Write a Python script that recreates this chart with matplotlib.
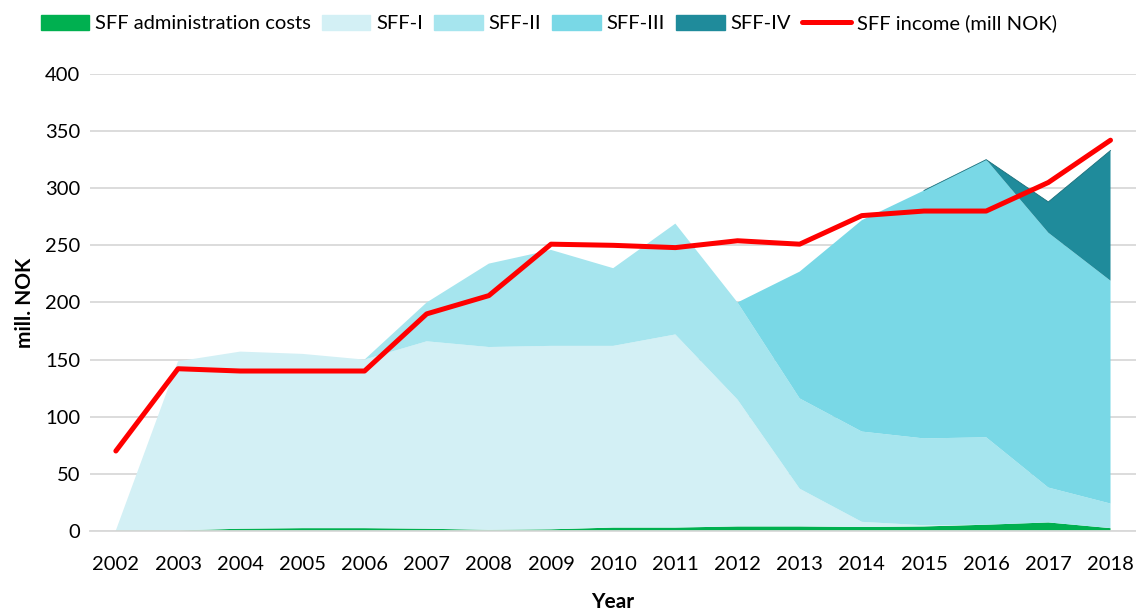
import numpy as np
import matplotlib
matplotlib.use('Agg')
import matplotlib.pyplot as plt
from matplotlib.patches import Patch
from matplotlib.lines import Line2D

plt.rcParams['font.family'] = ['Lato', 'DejaVu Sans']

years = list(range(2002, 2019))
admin = [0.5, 0.5, 2, 2.5, 2.5, 2, 1, 1.5, 3, 3, 4, 4, 3.5, 4, 5.5, 7.5, 2.5]
sff_1 = [0, 148, 155, 152.5, 147.5, 164, 160, 160.5, 159, 169, 111, 33, 4.5, 1, 0, 0, 0]
sff_2 = [0, 0, 0, 0, 0, 34, 73, 84, 68, 97, 85, 79, 79, 76, 76.5, 30.5, 21.5]
sff_3 = [0, 0, 0, 0, 0, 0, 0, 0, 0, 0, 0, 111, 185, 217, 243, 223, 195]
sff_4 = [0, 0, 0, 0, 0, 0, 0, 0, 0, 0, 0, 0, 0, 0, 0, 27, 114]
income = [70, 142, 140, 140, 140, 190, 206, 251, 250, 248, 254, 251, 276, 280, 280, 305, 342]

labels = ['SFF administration costs', 'SFF-I', 'SFF-II', 'SFF-III', 'SFF-IV']
colors = ['#00B050', '#D3F0F5', '#A6E5EE', '#79D8E6', '#1F8B9B']

fig = plt.figure(figsize=(11.36, 6.16), dpi=100)
ax = fig.add_axes([0.079, 0.138, 0.921, 0.742])

ax.stackplot(years, admin, sff_1, sff_2, sff_3, sff_4, colors=colors, linewidth=0)
# thin dark edge on top of the SFF-IV area
top = np.sum([admin, sff_1, sff_2, sff_3, sff_4], axis=0)
ax.plot(years[13:], top[13:], color='#1A6E7A', lw=0.6)
ax.plot(years, income, color='#FF0000', lw=3.6, solid_joinstyle='round',
        solid_capstyle='round', zorder=5)

ax.set_xlim(2002 - 0.42, 2018 + 0.41)
ax.set_ylim(0, 400)
ax.set_yticks(range(0, 401, 50))
ax.set_xticks(years)
ax.grid(axis='y', color='#D9D9D9', lw=1.3)
ax.set_axisbelow(True)
for s in ['top', 'right', 'left']:
    ax.spines[s].set_visible(False)
ax.spines['bottom'].set_color('#D9D9D9')
ax.spines['bottom'].set_linewidth(1.3)
ax.tick_params(length=0, labelsize=14.5, colors='black')
ax.tick_params(axis='x', pad=18)
ax.tick_params(axis='y', pad=7)
ax.set_xlabel('Year', fontsize=15, fontweight='bold', labelpad=14)
ax.set_ylabel('mill. NOK', fontsize=15, fontweight='bold', labelpad=7)

handles = [Patch(color=c, label=l) for c, l in zip(colors, labels)]
handles.append(Line2D([0], [0], color='#FF0000', lw=3.6, solid_capstyle='round',
                      label='SFF income (mill NOK)'))
fig.legend(handles=handles, loc='center', bbox_to_anchor=(0.483, 0.962), ncol=6,
           frameon=False, fontsize=14.5, handlelength=2.4, handleheight=0.75,
           handletextpad=0.3, columnspacing=0.55)

fig.savefig('out.png', dpi=100)
